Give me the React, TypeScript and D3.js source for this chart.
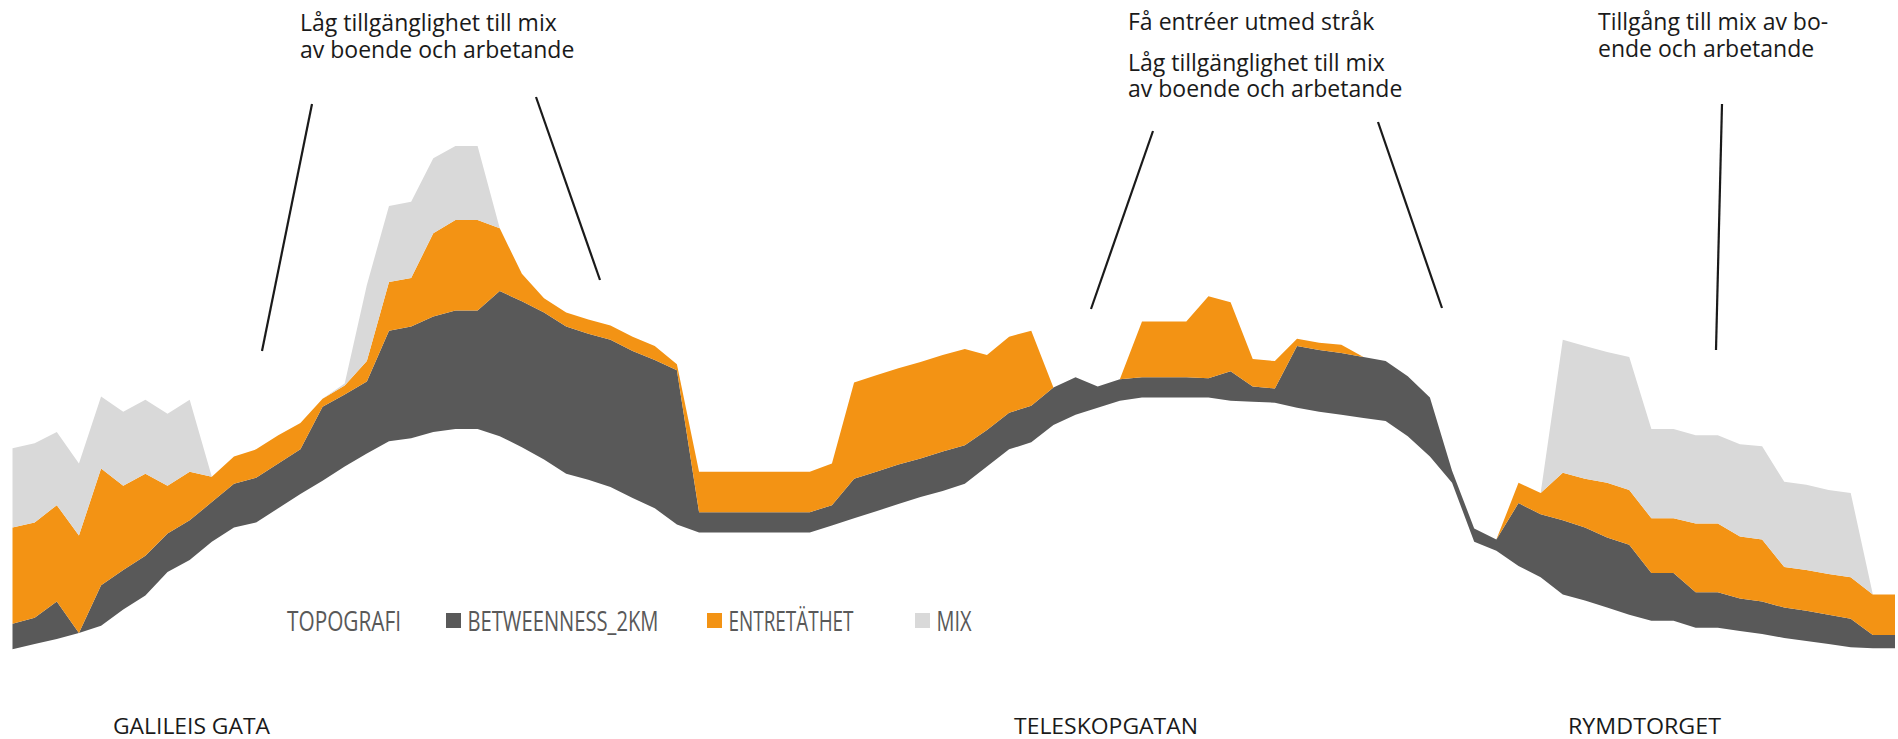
import React from 'react';
import * as d3 from 'd3';

// one value per sample point along the route (left to right)
const topografi = [
  5.8, 6.3, 6.8, 7.4, 8.1, 9.7, 11.1, 13.4, 14.6, 16.4,
  17.8, 18.3, 19.7, 21.1, 22.4, 23.8, 25.1, 26.3, 26.6, 27.2,
  27.5, 27.5, 26.8, 25.7, 24.5, 23.1, 22.5, 21.8, 20.7, 19.7,
  18.1, 17.3, 17.3, 17.3, 17.3, 17.3, 17.3, 18.0, 18.7, 19.4,
  20.1, 20.8, 21.4, 22.1, 23.8, 25.5, 26.2, 27.9, 28.9, 29.6,
  30.3, 30.6, 30.6, 30.6, 30.6, 30.3, 30.2, 30.1, 29.6, 29.2,
  28.9, 28.6, 28.3, 26.8, 24.8, 22.2, 16.4, 15.5, 14.0, 12.9,
  11.2, 10.6, 9.9, 9.2, 8.6, 8.6, 7.9, 7.9, 7.6, 7.3,
  6.9, 6.6, 6.3, 6.0, 5.9, 5.9,
];

const betweenness2km = [
  2.5, 2.6, 3.7, 0, 4.0, 3.9, 3.9, 3.8, 3.9, 3.9,
  4.3, 4.4, 4.4, 4.4, 7.3, 7.1, 7.1, 10.9, 11.0, 11.4,
  11.7, 11.7, 14.3, 14.4, 14.5, 14.5, 14.4, 14.5, 14.5, 14.6,
  15.2, 2.0, 2.0, 2.0, 2.0, 2.0, 2.0, 2.0, 3.9, 3.9,
  3.9, 3.8, 3.9, 3.8, 3.6, 3.6, 3.6, 3.7, 3.7, 2.1,
  2.1, 2.0, 2.0, 2.0, 1.9, 2.9, 1.5, 1.4, 6.1, 6.1,
  6.1, 6.0, 5.9, 5.9, 5.8, 1.2, 1.3, 1.1, 6.2, 6.2,
  7.3, 7.2, 6.9, 6.9, 4.7, 4.7, 3.5, 3.5, 3.2, 3.2,
  3.0, 3.0, 2.9, 2.8, 1.3, 1.3,
];

const entretathet = [
  9.5, 9.4, 9.5, 9.6, 11.5, 8.3, 8.1, 4.7, 4.8, 2.5,
  2.7, 2.8, 2.8, 2.6, 0.8, 0.9, 2.0, 4.8, 4.8, 8.2,
  8.9, 8.9, 6.2, 2.7, 1.4, 1.4, 1.4, 1.4, 1.4, 1.4,
  0.6, 4.0, 4.0, 4.0, 4.0, 4.0, 4.0, 4.1, 9.5, 9.5,
  9.5, 9.5, 9.5, 9.5, 7.4, 7.5, 7.4, 0, 0, 0,
  0, 5.5, 5.5, 5.5, 8.1, 6.8, 2.7, 2.7, 0.7, 0.7,
  0.8, 0, 0, 0, 0, 0, 0, 0, 2.0, 2.1,
  4.7, 4.8, 5.4, 5.4, 5.4, 5.4, 6.8, 6.8, 6.1, 6.1,
  4.0, 4.0, 4.0, 4.1, 4.0, 4.0,
];

const mix = [
  7.8, 7.8, 7.2, 7.1, 7.1, 7.3, 7.3, 7.1, 7.1, 0,
  0, 0, 0, 0, 0, 0.2, 7.5, 7.5, 7.5, 7.4,
  7.3, 7.3, 0, 0, 0, 0, 0, 0, 0, 0,
  0, 0, 0, 0, 0, 0, 0, 0, 0, 0,
  0, 0, 0, 0, 0, 0, 0, 0, 0, 0,
  0, 0, 0, 0, 0, 0, 0, 0, 0, 0,
  0, 0, 0, 0, 0, 0, 0, 0, 0, 0,
  13.1, 13.1, 12.9, 13.1, 8.8, 8.8, 8.7, 8.7, 9.1, 9.2,
  8.4, 8.4, 8.3, 8.3, 0, 0,
];

const seriesKeys = ['topografi', 'betweenness', 'entretathet', 'mix'];
const seriesLabels = ['TOPOGRAFI', 'BETWEENNESS_2KM', 'ENTRETÄTHET', 'MIX'];
const seriesColors = ['none', '#595959', '#F39314', '#D9D9D9'];

const streetLabels = ['GALILEIS GATA', 'TELESKOPGATAN', 'RYMDTORGET'];

const notes = [
  { lines: ['Låg tillgänglighet till mix', 'av boende och arbetande'], x: 300, ys: [31, 58] },
  { lines: ['Få entréer utmed stråk', 'Låg tillgänglighet till mix', 'av boende och arbetande'], x: 1128, ys: [30, 71, 97] },
  { lines: ['Tillgång till mix av bo-', 'ende och arbetande'], x: 1598, ys: [30, 57] },
];

const leaders = [
  [312, 104, 262, 351],
  [536, 97, 600, 280],
  [1153, 131, 1091, 309],
  [1378, 122, 1442, 308],
  [1722, 104, 1716, 350],
];

const W = 1898;
const H = 739;
const FONT = "'Open Sans', 'Noto Sans', sans-serif";

export default function App() {
  const rows = topografi.map((t, i) => ({
    topografi: t,
    betweenness: betweenness2km[i],
    entretathet: entretathet[i],
    mix: mix[i],
  }));

  const stacked = d3.stack<any>().keys(seriesKeys)(rows);

  const x = d3.scaleLinear().domain([0, rows.length - 1]).range([12.5, 1895]);
  const y = d3.scaleLinear().domain([0, 69.8]).range([708, 0]);

  const area = d3.area<any>()
    .x((d, i) => x(i))
    .y0((d) => y(d[0]))
    .y1((d) => y(d[1]));

  // legend layout
  const legendX = [287, 446, 707, 915];
  const legendW = [114, 191, 125, 35];
  const legendY = 621;

  const streetX = [113, 1014, 1568];
  const streetW = [157, 184, 153];

  return (
    <div style={{ position: 'absolute', left: 0, top: 0 }}>
      <svg width={W} height={H} style={{ display: 'block', background: '#fff' }}>
        <g>
          {stacked.map((s, k) => (
            <path key={s.key} d={area(s as any) || ''} fill={seriesColors[k]} stroke="none" />
          ))}
        </g>

        <g stroke="#1a1a1a" strokeWidth={2.2}>
          {leaders.map((l, i) => (
            <line key={i} x1={l[0]} y1={l[1]} x2={l[2]} y2={l[3]} />
          ))}
        </g>

        <g fontFamily={FONT} fontSize={23} fill="#1a1a1a">
          {notes.map((n, i) =>
            n.lines.map((t, j) => (
              <text key={i + '-' + j} x={n.x} y={n.ys[j]}>{t}</text>
            ))
          )}
        </g>

        <g fontFamily={FONT} fontSize={28} fill="#595959">
          {seriesLabels.map((lab, k) => {
            const hasSwatch = seriesColors[k] !== 'none';
            const tx = hasSwatch ? legendX[k] + 21.5 : legendX[k];
            return (
              <g key={lab}>
                {hasSwatch && (
                  <rect x={legendX[k]} y={legendY - 8} width={15} height={15} fill={seriesColors[k]} />
                )}
                <text x={tx} y={legendY + 10} textLength={legendW[k]} lengthAdjust="spacingAndGlyphs">{lab}</text>
              </g>
            );
          })}
        </g>

        <g fontFamily={FONT} fontSize={22} fill="#1a1a1a">
          {streetLabels.map((s, i) => (
            <text key={s} x={streetX[i]} y={734} textLength={streetW[i]} lengthAdjust="spacingAndGlyphs">{s}</text>
          ))}
        </g>
      </svg>
    </div>
  );
}
